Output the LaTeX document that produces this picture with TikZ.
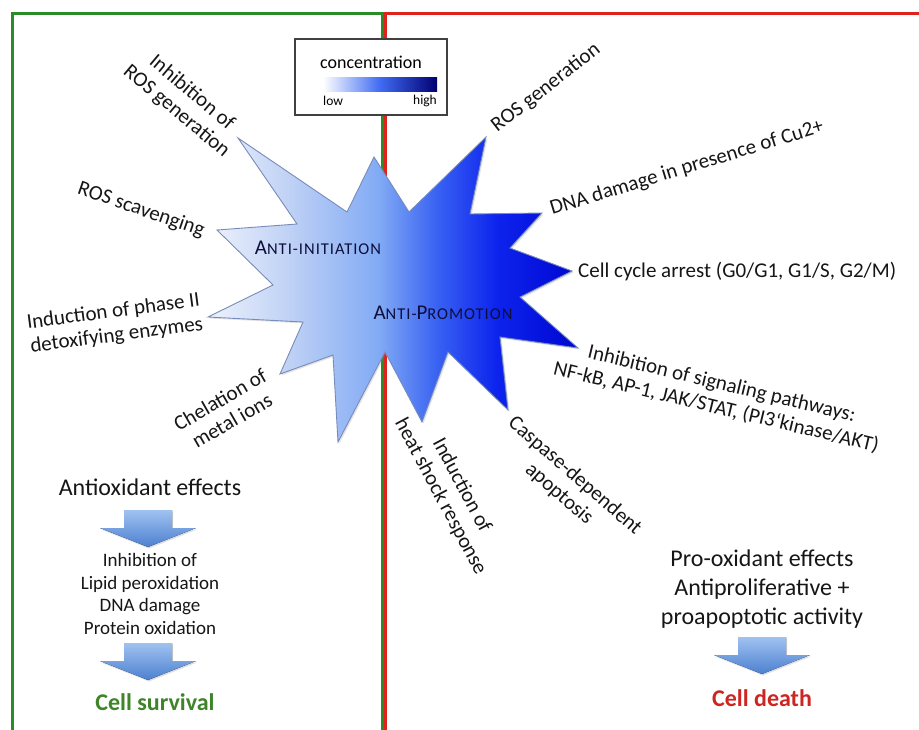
\documentclass[tikz,border=0pt]{standalone}
\usepackage{fontspec}
\setmainfont{Carlito}
\newfontfamily\capsfont[LetterSpace=6]{Carlito}
\usetikzlibrary{positioning,shadows}
\definecolor{FrameGreen}{RGB}{42,140,40}
\definecolor{FrameRed}{RGB}{222,34,30}
\definecolor{SurvivalGreen}{RGB}{62,132,40}
\definecolor{DeathRed}{RGB}{205,38,34}
\definecolor{StarLine}{RGB}{120,140,185}
\definecolor{ArrowTop}{RGB}{160,194,240}
\definecolor{ArrowBot}{RGB}{76,128,208}
\definecolor{TextDark}{RGB}{22,22,22}
\definecolor{PhaseNavy}{RGB}{14,14,60}
\pgfdeclarehorizontalshading{starshade}{100bp}{
  rgb(0bp)=(0.93,0.95,0.99); rgb(25bp)=(0.93,0.95,0.99);
  rgb(36bp)=(0.75,0.82,0.96); rgb(48bp)=(0.51,0.67,0.96);
  rgb(56bp)=(0.22,0.38,0.95); rgb(64bp)=(0.05,0.14,0.93);
  rgb(75bp)=(0,0.02,0.82); rgb(100bp)=(0,0.02,0.82)}
\pgfdeclarehorizontalshading{legendshade}{100bp}{
  rgb(0bp)=(1,1,1); rgb(25bp)=(1,1,1); rgb(50bp)=(0.25,0.42,0.95);
  rgb(75bp)=(0,0,0.45); rgb(100bp)=(0,0,0.45)}
\newcommand{\scpart}[1]{{\capsfont\fontsize{16.5}{19}\selectfont #1}}
\newcommand{\capletter}[1]{{\fontsize{21}{24}\selectfont #1}}
% block arrow: x centre, y top
\newcommand{\blockarrow}[2]{%
  \fill[arrowfill] (#1-24,#2) -- (#1+24,#2) -- (#1+24,#2+18) -- (#1+48,#2+18)
    -- (#1,#2+37) -- (#1-48,#2+18) -- (#1-24,#2+18) -- cycle;}

\begin{document}
\begin{tikzpicture}[x=1pt,y=-1pt,
    lbl/.style={font=\fontsize{21}{24}\selectfont,text=TextDark,align=center,inner sep=1pt},
    effect/.style={font=\fontsize{24}{29}\selectfont,text=TextDark,align=center,inner sep=1pt},
    listtxt/.style={font=\fontsize{19}{22.7}\selectfont,text=TextDark,align=center,inner sep=1pt},
    outcome/.style={font=\fontsize{24}{29}\selectfont\bfseries,inner sep=1pt},
    phase/.style={text=PhaseNavy,inner sep=1pt},
    arrowfill/.style={top color=ArrowTop,bottom color=ArrowBot,
                      drop shadow={opacity=0.25,shadow xshift=1pt,shadow yshift=-1.5pt}},
    frame/.style={line width=3pt}
  ]
  \fill[white] (0,0) rectangle (919,729);
  \useasboundingbox (0,0) rectangle (919,729);
  % two panels
  \draw[frame,FrameGreen] (12,735) -- (12,13) -- (382,13) -- (382,735);
  \draw[frame,FrameRed] (385,735) -- (385,13) -- (925,13);

  % star
  \draw[StarLine,line width=0.9pt,shading=starshade,
        drop shadow={opacity=0.22,shadow xshift=1.5pt,shadow yshift=-1.5pt}]
    (217,230) -- (297,224) -- (238,138) -- (347,212) -- (374,157) -- (409,212)
    -- (486,137) -- (470,214) -- (542,213) -- (510,248) -- (572,271) -- (520,297)
    -- (578,348) -- (500,337) -- (508,410) -- (448,352) -- (422,422) -- (385,352)
    -- (338,442) -- (333,355) -- (280,374) -- (303,322) -- (208,317) -- (273,285)
    -- cycle;
  \node[phase] (init) at (318,248) {\capletter{A}\scpart{NTI-INITIATION}};
  \node[phase] (promo) at (443,313) {\capletter{A}\scpart{NTI-}\capletter{P}\scpart{ROMOTION}};

  % legend
  \node[draw=black!75,line width=1.2pt,fill=white,minimum width=152,minimum height=76,
        drop shadow={opacity=0.2,shadow xshift=1pt,shadow yshift=-1pt}] (legend) at (371,77) {};
  \node[font=\fontsize{18}{20}\selectfont,inner sep=0pt] (conc) at (371,62) {concentration};
  \shade[shading=legendshade] (323,77) rectangle (437,91);
  \node[font=\fontsize{13.5}{15}\selectfont,anchor=west,inner sep=0pt] (low) at (323,101) {low};
  \node[font=\fontsize{13.5}{15}\selectfont,anchor=east,inner sep=0pt] (high) at (437,101) {high};

  % anti-initiation side
  \node[lbl,rotate=-40] (inhros) at (184,102) {Inhibition of\\ROS generation};
  \node[lbl,rotate=-19] (scav) at (141,210) {ROS scavenging};
  \node[lbl,rotate=7.5,align=right] (detox) at (115,324) {Induction of phase II\\detoxifying enzymes};
  \node[lbl,rotate=30] (chel) at (226,410) {Chelation of\\metal ions};

  % anti-promotion side
  \node[lbl,rotate=38] (rosgen) at (546,88) {ROS generation};
  \node[lbl,rotate=17] (dna) at (687,168) {DNA damage in presence of Cu2+};
  \node[lbl,anchor=west] (cycle) at (577,272) {Cell cycle arrest (G0/G1, G1/S, G2/M)};
  \node[lbl,rotate=-13.5] (signal) at (719,396) {Inhibition of signaling pathways:\\NF-kB, AP-1, JAK/STAT, (PI3‘kinase/AKT)};
  \node[lbl,rotate=-41] (casp) at (567,485) {Caspase-dependent\\apoptosis};
  \node[lbl,rotate=-62] (heat) at (451,491) {Induction of\\heat shock response};

  % outcomes
  \node[effect] (antiox) at (150,487) {Antioxidant effects};
  \blockarrow{148}{510}
  \node[listtxt] (inhlist) at (150,594) {Inhibition of\\Lipid peroxidation\\DNA damage\\Protein oxidation};
  \blockarrow{148}{643}
  \node[outcome,text=SurvivalGreen] (survival) at (155,702) {Cell survival};

  \node[effect] (proox) at (762,589) {Pro-oxidant effects\\Antiproliferative +\\proapoptotic activity};
  \blockarrow{762}{637}
  \node[outcome,text=DeathRed] (death) at (762,698) {Cell death};
\end{tikzpicture}
\end{document}
